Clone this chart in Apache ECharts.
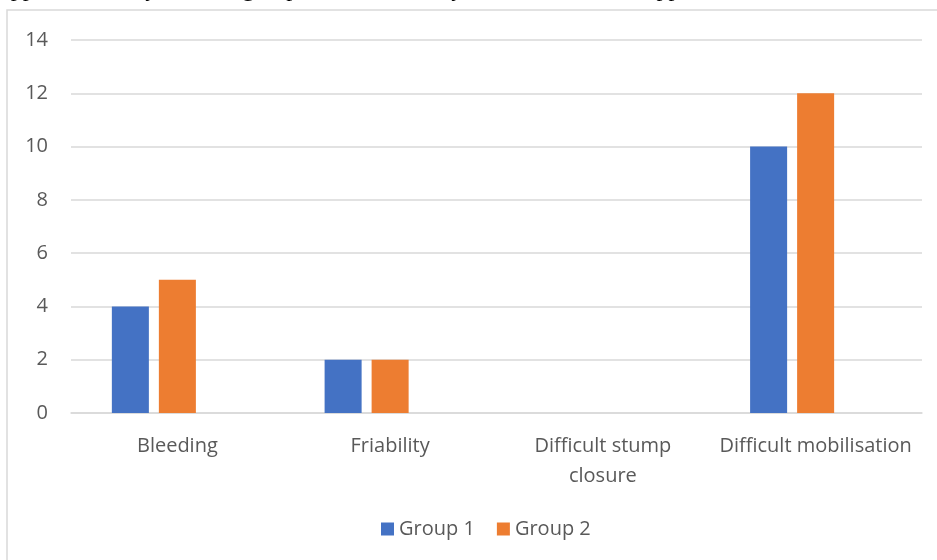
<!DOCTYPE html>
<html>
<head>
<meta charset="utf-8">
<script src="https://cdn.jsdelivr.net/npm/echarts@6/dist/echarts.min.js"></script>
<style>
  html, body { margin: 0; padding: 0; background: #fff; }
  #chart { width: 937px; height: 560px; }
</style>
</head>
<body>
<div id="chart"></div>
<script>
// Intra-operative difficulties by group
const categories = ['Bleeding', 'Friability', 'Difficult stump\nclosure', 'Difficult mobilisation'];
const group1 = [4, 2, 0, 10];
const group2 = [5, 2, 0, 12];
// third slot in each cluster is left empty (no values recorded)
const group3 = [null, null, null, null];
const seriesNames = ['Group 1', 'Group 2', 'Group 3'];

const textColor = '#595959';
const font = '"Open Sans", "Noto Sans", sans-serif';

const chart = echarts.init(document.getElementById('chart'), null, { renderer: 'canvas' });

const barStyle = { type: 'bar', barWidth: '17.4%', barGap: '27%' };

chart.setOption({
  animation: false,
  backgroundColor: '#ffffff',
  color: ['#4472C4', '#ED7D31', '#A5A5A5'],
  graphic: [
    {
      type: 'text',
      left: 0,
      top: -22,
      style: {
        text: 'appendicectomy. Bleeding of port was difficulty in mobilisation of appendix due to',
        font: '24px "Liberation Serif", "DejaVu Serif", serif',
        fill: '#000'
      },
      silent: true
    },
    {
      type: 'rect',
      shape: { x: 7, y: 10, width: 940, height: 560 },
      style: { fill: '#fff', stroke: '#d9d9d9', lineWidth: 1.5 },
      z: -10,
      silent: true
    }
  ],
  grid: { left: 71, right: 15, top: 40, bottom: 147, containLabel: false },
  legend: {
    data: seriesNames.slice(0, 2),
    top: 514,
    left: 376,
    itemWidth: 13,
    itemHeight: 13,
    itemGap: 22,
    icon: 'rect',
    textStyle: { color: textColor, fontSize: 20, fontFamily: font }
  },
  xAxis: {
    type: 'category',
    data: categories,
    axisLine: { lineStyle: { color: '#d9d9d9', width: 1.5 } },
    axisTick: { show: false },
    axisLabel: {
      color: textColor,
      fontSize: 20,
      fontFamily: font,
      margin: 18,
      lineHeight: 30,
      interval: 0
    }
  },
  yAxis: {
    type: 'value',
    min: 0,
    max: 14,
    interval: 2,
    axisLine: { show: false },
    axisTick: { show: false },
    splitLine: { lineStyle: { color: '#d9d9d9', width: 1.5 } },
    axisLabel: { color: textColor, fontSize: 20, fontFamily: font, margin: 23 }
  },
  series: [
    Object.assign({ name: seriesNames[0], data: group1 }, barStyle),
    Object.assign({ name: seriesNames[1], data: group2 }, barStyle),
    Object.assign({ name: seriesNames[2], data: group3 }, barStyle)
  ]
});
</script>
</body>
</html>
